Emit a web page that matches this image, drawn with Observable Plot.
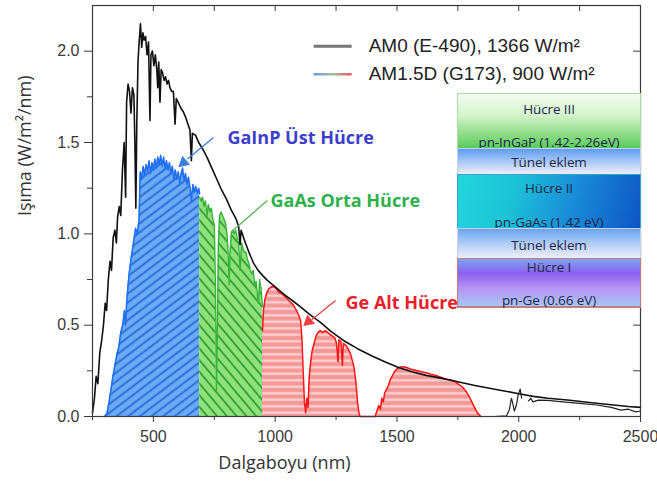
<!DOCTYPE html>
<html><head><meta charset="utf-8">
<script src="https://cdn.jsdelivr.net/npm/d3@7"></script>
<script src="https://cdn.jsdelivr.net/npm/@observablehq/plot@0.6"></script>
<style>
body{margin:0;background:#fff;}
#wrap{position:relative;width:657px;height:486px;overflow:hidden;}
#cells{position:absolute;left:457px;top:93px;width:184px;font-family:'Open Sans',sans-serif;font-size:13.5px;color:#1c2848;}
.layer{position:relative;box-sizing:border-box;}
.layer span{position:absolute;left:0;right:0;text-align:center;line-height:14px;white-space:nowrap;letter-spacing:-0.1px;}
</style></head><body>
<svg width="0" height="0" style="position:absolute">
<defs>
<pattern id="hatchBlue" patternUnits="userSpaceOnUse" width="8" height="7" patternTransform="rotate(-37)">
<rect width="8" height="7" fill="#6aaaf6"/><line x1="0" y1="3.5" x2="8" y2="3.5" stroke="#1f62d6" stroke-width="1.6"/></pattern>
<pattern id="hatchGreen" patternUnits="userSpaceOnUse" width="8" height="7.5" patternTransform="rotate(50)">
<rect width="8" height="7.5" fill="#8fe27a"/><line x1="0" y1="3.75" x2="8" y2="3.75" stroke="#2a9530" stroke-width="1.6"/></pattern>
<pattern id="hatchRed" patternUnits="userSpaceOnUse" width="8" height="6.5">
<rect width="8" height="6.5" fill="#f59898"/><line x1="0" y1="3.25" x2="8" y2="3.25" stroke="#fcd4d4" stroke-width="2.2"/></pattern>
<linearGradient id="legGrad" gradientUnits="userSpaceOnUse" x1="313" y1="0" x2="351" y2="0">
<stop offset="0" stop-color="#6f92ea"/><stop offset="0.5" stop-color="#9fbf9f"/><stop offset="1" stop-color="#e85a5a"/></linearGradient>
</defs></svg>
<div id="wrap"><div id="chart"></div><div id="cells"></div></div>
<script>
// AM0 (E-490) spectrum [wavelength nm, W/m2/nm]
const am0 = [[250,0.02],[258,0.1],[265,0.22],[272,0.18],[280,0.35],[288,0.42],[295,0.5],[302,0.62],[308,0.58],[315,0.75],[322,0.85],[328,0.8],[335,0.98],[342,1.02],[348,0.95],[353,1.09],[360,1.15],[366,1.1],[373,1.35],[380,1.5],[386,1.2],[390,1.72],[396,1.82],[402,1.78],[408,1.66],[414,1.8],[420,1.76],[424,1.5],[428,1.14],[432,1.62],[437,1.95],[442,2.06],[447,2.15],[452,2.02],[457,2.1],[462,2.06],[468,2.08],[474,1.98],[480,2.05],[486,1.62],[490,1.98],[496,2.0],[502,1.92],[508,1.98],[514,1.9],[518,1.8],[522,1.94],[527,1.72],[532,1.9],[538,1.88],[544,1.84],[550,1.86],[556,1.82],[562,1.84],[568,1.8],[575,1.78],[582,1.78],[589,1.6],[594,1.74],[602,1.72],[612,1.69],[622,1.67],[632,1.64],[642,1.6],[650,1.57],[656,1.4],[660,1.55],[673,1.54],[686,1.5],[700,1.47],[720,1.42],[740,1.36],[760,1.3],[780,1.24],[800,1.19],[820,1.13],[840,1.08],[850,1.04],[856,0.94],[860,1.02],[878,0.95],[895,0.89],[911,0.84],[930,0.8],[950,0.77],[968,0.745],[1000,0.71],[1035,0.67],[1070,0.635],[1104,0.6],[1140,0.56],[1186,0.515],[1230,0.465],[1282,0.415],[1340,0.37],[1400,0.33],[1450,0.3],[1504,0.27],[1560,0.245],[1620,0.225],[1680,0.21],[1750,0.19],[1820,0.17],[1880,0.155],[1940,0.14],[2000,0.125],[2060,0.11],[2120,0.1],[2200,0.09],[2300,0.075],[2400,0.062],[2450,0.055],[2500,0.05]];

// AM1.5D (G173) spectrum, split by sub-cell
const gainpTop = [[300,0],[310,0.02],[318,0.08],[326,0.15],[334,0.22],[342,0.28],[350,0.34],[358,0.38],[366,0.46],[374,0.5],[381,0.58],[386,0.5],[390,0.62],[396,0.72],[402,0.8],[410,0.88],[418,0.95],[427,1.03],[434,1.0],[441,1.08],[446,1.34],[452,1.3],[458,1.37],[464,1.32],[470,1.38],[476,1.34],[482,1.4],[488,1.33],[494,1.39],[500,1.35],[506,1.41],[512,1.36],[518,1.42],[524,1.38],[530,1.43],[536,1.37],[542,1.42],[548,1.36],[554,1.4],[560,1.35],[566,1.39],[572,1.33],[578,1.37],[584,1.3],[590,1.35],[596,1.3],[602,1.34],[608,1.28],[614,1.33],[620,1.36],[626,1.29],[632,1.33],[638,1.27],[644,1.31],[650,1.26],[656,1.18],[662,1.27],[668,1.23],[674,1.26],[680,1.22],[686,1.25],[690,1.22]];
const gaasMiddle = [[690,1.2],[696,1.18],[702,1.2],[708,1.15],[714,1.18],[720,1.1],[726,1.16],[732,1.12],[738,1.14],[744,1.08],[750,1.05],[755,0.7],[759,0.14],[763,0.5],[767,0.95],[772,1.1],[778,1.12],[784,1.1],[790,1.08],[796,1.06],[802,1.0],[807,0.9],[811,0.72],[815,0.9],[820,1.0],[826,1.02],[832,1.0],[838,1.02],[844,0.98],[850,0.95],[856,0.8],[862,0.95],[868,0.92],[874,0.9],[880,0.9],[886,0.86],[892,0.84],[898,0.8],[904,0.78],[910,0.8],[916,0.72],[922,0.74],[928,0.65],[932,0.62],[936,0.75],[942,0.7],[948,0.6]];
const geBottom = [[948,0.47],[952,0.58],[958,0.64],[966,0.68],[975,0.7],[985,0.71],[995,0.71],[1005,0.7],[1015,0.68],[1030,0.67],[1045,0.65],[1060,0.63],[1075,0.61],[1088,0.58],[1098,0.55],[1105,0.52],[1110,0.42],[1115,0.25],[1120,0.08],[1125,0.02],[1130,0.1],[1135,0.05],[1140,0.22],[1146,0.3],[1152,0.36],[1160,0.4],[1168,0.44],[1176,0.46],[1185,0.47],[1195,0.46],[1205,0.47],[1215,0.46],[1225,0.45],[1235,0.44],[1245,0.43],[1252,0.4],[1258,0.3],[1262,0.42],[1270,0.41],[1276,0.28],[1280,0.4],[1290,0.39],[1300,0.37],[1310,0.34],[1318,0.3],[1325,0.26],[1332,0.18],[1338,0.08],[1345,0.01],[1350,0],[1380,0],[1410,0],[1418,0.03],[1425,0.06],[1432,0.04],[1438,0.1],[1444,0.08],[1450,0.13],[1458,0.15],[1465,0.17],[1472,0.2],[1480,0.22],[1490,0.245],[1500,0.26],[1512,0.27],[1525,0.272],[1540,0.268],[1555,0.26],[1570,0.255],[1585,0.25],[1600,0.245],[1620,0.24],[1640,0.232],[1660,0.225],[1680,0.215],[1700,0.205],[1720,0.2],[1740,0.19],[1755,0.175],[1770,0.16],[1785,0.135],[1800,0.1],[1815,0.06],[1830,0.02],[1845,0]];
const am15Tail = [[1845,0],[1900,0],[1950,0.003],[1962,0.04],[1970,0.1],[1976,0.07],[1982,0.03],[1990,0.06],[1998,0.12],[2006,0.15],[2012,0.1],[2018,NaN],[2040,0.085],[2050,0.1],[2058,0.08],[2080,0.09],[2120,0.088],[2180,0.08],[2250,0.072],[2320,0.063],[2380,0.05],[2420,0.035],[2450,0.04],[2480,0.025],[2500,0.03]];

const xMajor = [500,1000,1500,2000,2500];
const xMinor = [250,750,1250,1750,2250];
const yMajor = [0,0.5,1.0,1.5,2.0];
const yMinor = [0.25,0.75,1.25,1.75];

const legendLabels = ["AM0 (E-490), 1366 W/m²", "AM1.5D (G173), 900 W/m²"];
const cellNames = ["GaInP Üst Hücre","GaAs Orta Hücre","Ge Alt Hücre"];
const cellLayers = [
  {top:"Hücre III", bottom:"pn-InGaP (1.42-2.26eV)"},
  {top:"Tünel eklem"},
  {top:"Hücre II", bottom:"pn-GaAs (1.42 eV)"},
  {top:"Tünel eklem"},
  {top:"Hücre I", bottom:"pn-Ge (0.66 eV)"}
];

const X = d => d[0], Y = d => d[1];
const annText = [
  {t:cellNames[0], x:804, y:1.522, c:"#3d3fcc"},
  {t:cellNames[1], x:981, y:1.177, c:"#2eb04a"},
  {t:cellNames[2], x:1289, y:0.619, c:"#e8202a"}
];
const annLines = [
  {x1:747, y1:1.527, x2:640, y2:1.41, c:"#3a80e0"},
  {x1:968, y1:1.182, x2:817, y2:1.007, c:"#5ab35a"},
  {x1:1248, y1:0.635, x2:1150, y2:0.53, c:"#f04040"}
];
const annHeads = [
  {x:624, y:1.39, c:"#3a80e0"},
  {x:1137, y:0.52, c:"#f04040"}
];
const legendRows = [
  {label:legendLabels[0], y:2.027, stroke:"#777", w:3},
  {label:legendLabels[1], y:1.874, stroke:"url(#legGrad)", w:2.5}
];

const chart = Plot.plot({
  width:657, height:486,
  marginLeft:92, marginRight:17, marginTop:5, marginBottom:70,
  style:{fontFamily:"'Liberation Sans', Arial, sans-serif", fontSize:"16px", color:"#3a3a3a", background:"white"},
  x:{domain:[250,2500]},
  y:{domain:[0,2.25]},
  marks:[
    Plot.areaY(gainpTop,{x:X, y:Y, fill:"url(#hatchBlue)"}),
    Plot.areaY(gaasMiddle,{x:X, y:Y, fill:"url(#hatchGreen)"}),
    Plot.areaY(geBottom,{x:X, y:Y, fill:"url(#hatchRed)"}),
    Plot.line(gainpTop,{x:X, y:Y, stroke:"#1f6ef0", strokeWidth:1.5}),
    Plot.line(gaasMiddle,{x:X, y:Y, stroke:"#38b238", strokeWidth:1.4}),
    Plot.line(geBottom,{x:X, y:Y, stroke:"#ff1414", strokeWidth:1.5}),
    Plot.line(am15Tail,{x:X, y:Y, stroke:"#222", strokeWidth:1.2}),
    Plot.line(am0,{x:X, y:Y, stroke:"#111", strokeWidth:1.6}),
    Plot.frame({stroke:"#3a3a3a", strokeWidth:1.2}),
    Plot.axisX({anchor:"bottom", ticks:xMajor, tickSize:6, tickPadding:8, tickFormat:d=>String(d), label:null, fontSize:16}),
    Plot.axisX({anchor:"bottom", ticks:xMinor, tickSize:4, tickFormat:()=>"", label:null}),
    Plot.axisY({anchor:"left", ticks:yMajor, tickSize:8, tickPadding:5, tickFormat:d3.format(".1f"), label:null, fontSize:16}),
    Plot.axisY({anchor:"left", ticks:yMinor, tickSize:5, tickFormat:()=>"", label:null}),
    Plot.ruleX(xMajor.concat(xMinor),{insetBottom:405, stroke:"#3a3a3a"}),
    Plot.ruleY(yMajor.concat(yMinor),{insetLeft:541, stroke:"#3a3a3a"}),
    Plot.link(annLines,{x1:"x1", y1:"y1", x2:"x2", y2:"y2", stroke:"c", strokeWidth:1.3}),
    Plot.dot(annHeads,{x:"x", y:"y", fill:"c", symbol:"triangle", r:4.5, rotate:229}),
    Plot.text(annText,{x:"x", y:"y", text:"t", fill:"c", textAnchor:"start", fontSize:18, fontWeight:"bold", fontFamily:"'Open Sans', sans-serif"}),
    Plot.link(legendRows,{x1:()=>1158, x2:()=>1314, y1:"y", y2:"y", stroke:"stroke", strokeWidth:"w"}),
    Plot.text(legendRows,{x:()=>1384, y:"y", text:"label", textAnchor:"start", fontSize:19, fill:"#222"}),
    Plot.text(["Dalgaboyu (nm)"],{text:d=>d, frameAnchor:"bottom", dx:-82, dy:52, fontSize:18, fill:"#333", fontFamily:"'Open Sans', sans-serif"}),
    Plot.text(["Işıma (W/m²/nm)"],{text:d=>d, frameAnchor:"left", dx:-67, dy:5, rotate:-90, fontSize:18, fill:"#333", fontFamily:"'Open Sans', sans-serif"})
  ]
});
document.getElementById("chart").appendChild(chart);

// inset cell stack illustration
const layerStyle = [
  {h:55, bg:"linear-gradient(180deg,#f3fcf1 0%,#d4f3cc 40%,#8ddc86 75%,#5acb5e 100%)", border:"#a8dca4", pos:[15,48]},
  {h:26, bg:"linear-gradient(180deg,#5d9ef2 0%,#a9c8f5 50%,#efeefa 100%)", border:"#c8d0e8", pos:[13]},
  {h:54, bg:"linear-gradient(105deg,#24d6dc 0%,#1cc3d6 30%,#1a8fd8 60%,#0e55c4 100%)", border:"#3aa0d0", pos:[13,47]},
  {h:30, bg:"linear-gradient(180deg,#6aa4f2 0%,#b0cdf5 50%,#f0eefa 100%)", border:"#c8d0e8", pos:[16]},
  {h:50, bg:"linear-gradient(180deg,#7fa6f2 0%,#8b60ee 30%,#b691f3 60%,#a7c6f8 100%)", border:"#c08080", pos:[8,41]}
];
const cells = document.getElementById("cells");
cellLayers.forEach((L,i)=>{
  const s = layerStyle[i];
  const div = document.createElement("div");
  div.className = "layer";
  div.style.height = s.h + "px";
  div.style.background = s.bg;
  div.style.borderLeft = div.style.borderRight = "1px solid " + s.border;
  div.style.borderTop = "1px solid " + s.border;
  if (i === cellLayers.length-1) div.style.borderBottom = "2px solid " + s.border;
  [L.top, L.bottom].forEach((t,j)=>{
    if (!t) return;
    const sp = document.createElement("span");
    sp.textContent = t;
    sp.style.top = (s.pos[j]-7) + "px";
    div.appendChild(sp);
  });
  cells.appendChild(div);
});
</script>
</body></html>
